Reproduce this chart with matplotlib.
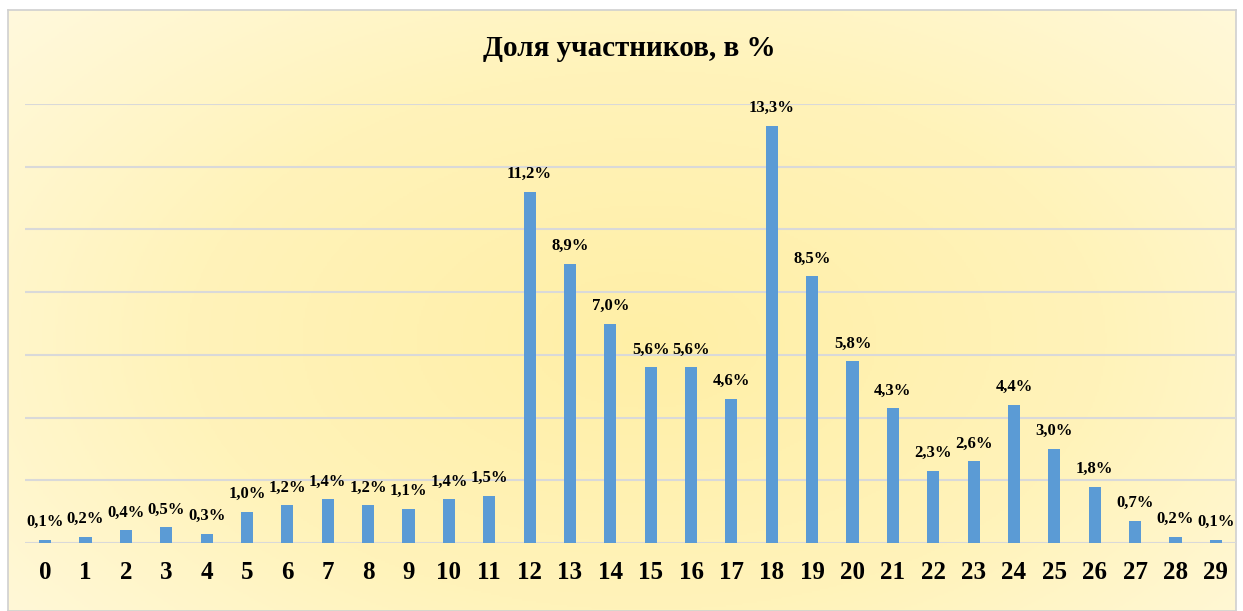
import numpy as np
import matplotlib
matplotlib.use("Agg")
import matplotlib.pyplot as plt
from matplotlib.colors import LinearSegmentedColormap

categories = [str(i) for i in range(30)]
values = [0.1, 0.2, 0.4, 0.5, 0.3, 1.0, 1.2, 1.4, 1.2, 1.1, 1.4, 1.5,
          11.2, 8.9, 7.0, 5.6, 5.6, 4.6, 13.3, 8.5, 5.8, 4.3, 2.3, 2.6,
          4.4, 3.0, 1.8, 0.7, 0.2, 0.1]
title = "Доля участников, в %"

W, H = 1243, 611
fig = plt.figure(figsize=(W / 100, H / 100), dpi=100)
fig.patch.set_facecolor("white")

# background gradient panel (chart frame)
fx0, fx1 = 8 / W, 1236 / W
fy0, fy1 = 0.0, 1 - 10 / H
bg = fig.add_axes([fx0, fy0, fx1 - fx0, fy1 - fy0], zorder=0)
yy, xx = np.mgrid[0:1:300j, 0:1:600j]
r = np.sqrt(((xx - 0.52) / 0.75) ** 2 + ((yy - 0.55) / 0.9) ** 2)
r = np.clip(r, 0, 1)
cmap = LinearSegmentedColormap.from_list("bg", ["#FFEFA6", "#FFF3BA", "#FFFAE3"])
bg.imshow(r, cmap=cmap, aspect="auto", extent=[0, 1, 0, 1], vmin=0, vmax=1)
bg.set_xticks([]); bg.set_yticks([])
for s in bg.spines.values():
    s.set_color("#D0D0D0"); s.set_linewidth(1.2)

ax = fig.add_axes([25 / W, (H - 543) / H, (1236 - 25) / W, (543 - 104) / H], zorder=1)
ax.patch.set_alpha(0)
x = np.arange(len(values))
ax.bar(x, values, width=0.3, color="#5B9BD5", zorder=3)
ax.set_xlim(-0.5, len(values) - 0.5)
ax.set_ylim(0, 14)
ax.set_yticks(np.arange(0, 15, 2))
ax.yaxis.grid(True, color="#D9D9D9", linewidth=1.5, zorder=0)
ax.tick_params(axis="y", length=0, labelleft=False)
ax.tick_params(axis="x", length=0, pad=13)
ax.set_xticks(x)
ax.set_xticklabels(categories, fontfamily="Liberation Serif", fontweight="bold", fontsize=18)
for s in ax.spines.values():
    s.set_visible(False)

for xi, v in zip(x, values):
    ax.annotate(f"{v:.1f}%".replace(".", ","), (xi, v), xytext=(0, 7),
                textcoords="offset points", ha="center", va="bottom",
                fontfamily="Liberation Serif", fontweight="bold", fontsize=12)

fig.text(629 / W, 1 - 48 / H, title, ha="center", va="center",
         fontfamily="Liberation Serif", fontweight="bold", fontsize=21)

fig.savefig("out.png", dpi=100)
